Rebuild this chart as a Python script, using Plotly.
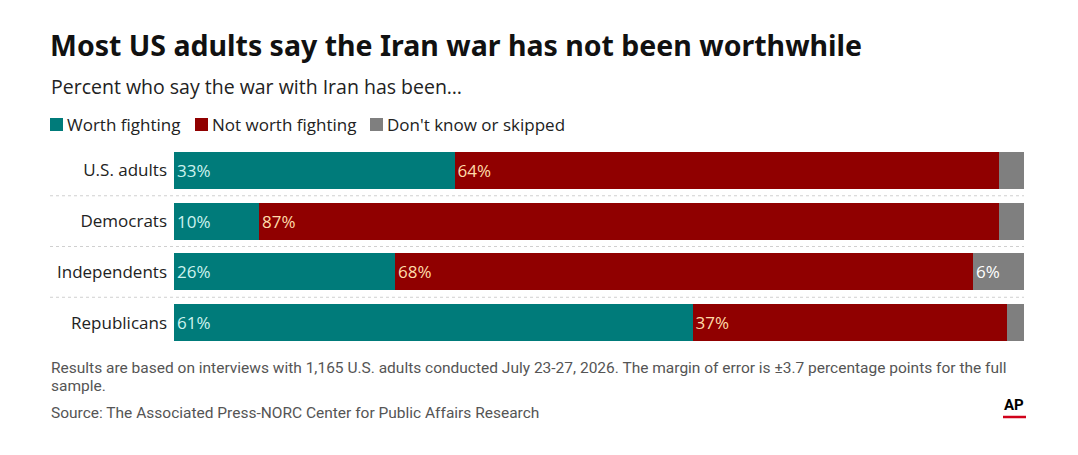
import plotly.graph_objects as go

# --- data ---
groups = ["U.S. adults", "Democrats", "Independents", "Republicans"]
worth = [33, 10, 26, 61]
not_worth = [64, 87, 68, 37]
dont_know = [3, 3, 6, 2]

series_names = ["Worth fighting", "Not worth fighting", "Don't know or skipped"]
series_colors = ["#007b7a", "#900000", "#7f7f7f"]
text_colors = ["#cdf3ef", "#ffdcaa", "#ffffff"]

W, H = 1078, 455
OFF = 8  # page body margin shifts the figure by 8px
PLOT_L, PLOT_R = 174 - OFF, 1024 - OFF
PLOT_T, PLOT_B = 145 - OFF, 348 - OFF


def px_x(p):
    return (p - OFF - PLOT_L) / (PLOT_R - PLOT_L)


def px_y(p):
    return (PLOT_B - (p - OFF)) / (PLOT_B - PLOT_T)


def labels(vals):
    return [f"{v}%" if v >= 5 else "" for v in vals]


FONT = "Open Sans"
fig = go.Figure()

for name, vals, color, txtcolor in zip(series_names, [worth, not_worth, dont_know],
                                       series_colors, text_colors):
    fig.add_trace(go.Bar(
        y=groups, x=vals, name=name, orientation="h",
        marker=dict(color=color, line=dict(width=0)),
        text=labels(vals), textposition="inside", insidetextanchor="start",
        textfont=dict(color=txtcolor, size=17, family=FONT),
        cliponaxis=False, hoverinfo="skip", showlegend=False,
    ))

# dotted separators between rows
shapes = []
for k in range(len(groups) - 1):
    shapes.append(dict(type="line", xref="paper", yref="y",
                       x0=px_x(50), x1=1, y0=k + 0.5, y1=k + 0.5,
                       line=dict(color="#d0d0d0", width=1, dash="dot"), layer="below"))

# AP logo underline
shapes.append(dict(type="line", xref="paper", yref="paper",
                   x0=px_x(1003), x1=px_x(1026), y0=px_y(417), y1=px_y(417),
                   line=dict(color="#d0021b", width=2.5)))

annotations = [
    dict(text="<b>Most US adults say the Iran war has not been worthwhile</b>",
         x=px_x(48), y=px_y(45), font=dict(size=28.5, color="#111", family="Noto Sans")),
    dict(text="Percent who say the war with Iran has been…",
         x=px_x(49), y=px_y(86), font=dict(size=19.5, color="#222", family=FONT)),
    dict(text="Results are based on interviews with 1,165 U.S. adults conducted July 23-27, 2026. "
              "The margin of error is ±3.7 percentage points for the full",
         x=px_x(49), y=px_y(368), font=dict(size=15.5, color="#555", family="Roboto")),
    dict(text="sample.", x=px_x(49), y=px_y(386), font=dict(size=15.5, color="#555", family="Roboto")),
    dict(text="Source: The Associated Press-NORC Center for Public Affairs Research",
         x=px_x(49), y=px_y(413), font=dict(size=15.5, color="#555", family="Roboto")),
    dict(text="<b>AP</b>", x=px_x(1014), y=px_y(405), xanchor="center",
         font=dict(size=15, color="#000", family="Liberation Sans Narrow, Roboto")),
]

# custom legend: swatch + label
legend_sq = [50, 195, 370]
for name, color, x0 in zip(series_names, series_colors, legend_sq):
    shapes.append(dict(type="rect", xref="paper", yref="paper",
                       x0=px_x(x0), x1=px_x(x0 + 13), y0=px_y(131), y1=px_y(118),
                       fillcolor=color, line=dict(width=0)))
    annotations.append(dict(text=name, x=px_x(x0 + 15), y=px_y(124),
                            font=dict(size=17, color="#222", family=FONT)))

for a in annotations:
    a.setdefault("xanchor", "left")
    a.update(xref="paper", yref="paper", yanchor="middle", showarrow=False)

fig.update_layout(
    width=W, height=H,
    barmode="stack", bargap=0.275,
    margin=dict(l=PLOT_L, r=W - PLOT_R, t=PLOT_T, b=H - PLOT_B),
    paper_bgcolor="white", plot_bgcolor="white",
    font=dict(family=FONT, color="#222"),
    showlegend=False,
    xaxis=dict(range=[0, 100], visible=False, fixedrange=True),
    yaxis=dict(autorange="reversed", showgrid=False, zeroline=False, ticks="",
               tickfont=dict(size=17, color="#222", family=FONT), ticklabelstandoff=6,
               fixedrange=True),
    shapes=shapes, annotations=annotations,
)

fig.write_html("out.html")
